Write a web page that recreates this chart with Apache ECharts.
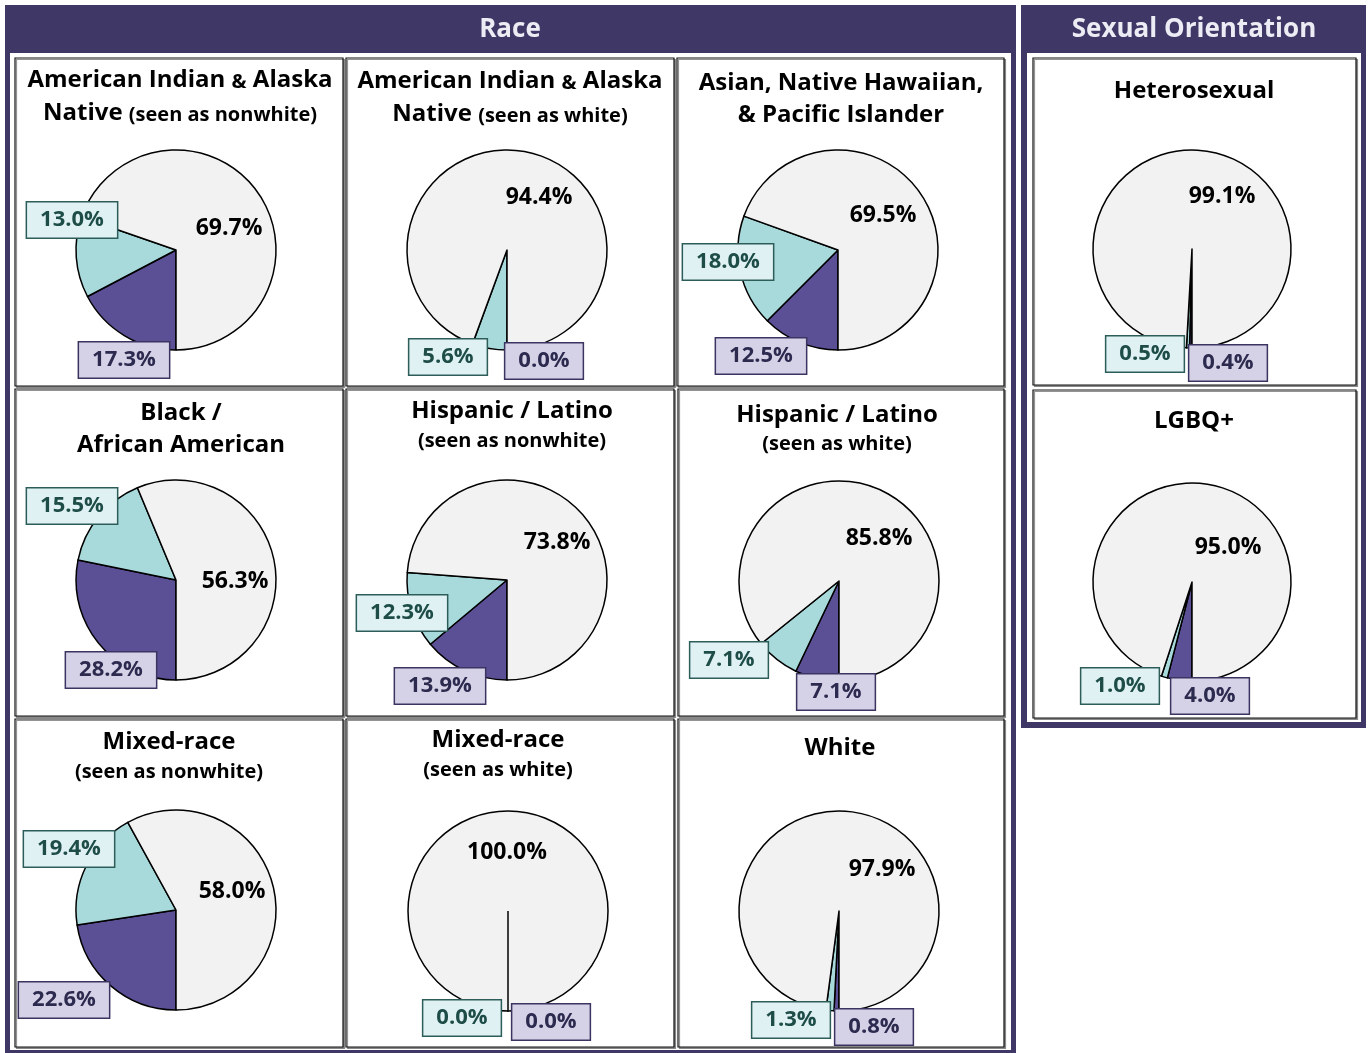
<!DOCTYPE html>
<html>
<head>
<meta charset="utf-8">
<script src="https://cdn.jsdelivr.net/npm/echarts@6/dist/echarts.min.js"></script>
<style>
  html, body { margin: 0; padding: 0; background: #fff; }
  #main { width: 1368px; height: 1053px; }
</style>
</head>
<body>
<div id="main"></div>
<script>
// 数据
const groups = [
  "AIAN (seen as nonwhite)", "AIAN (seen as white)", "Asian, NHPI",
  "Black / African American", "Hispanic / Latino (seen as nonwhite)", "Hispanic / Latino (seen as white)",
  "Mixed-race (seen as nonwhite)", "Mixed-race (seen as white)", "White",
  "Heterosexual", "LGBQ+"
];
const grayVals = [69.7, 94.4, 69.5, 56.3, 73.8, 85.8, 58.0, 100.0, 97.9, 99.1, 95.0];
const tealVals = [13.0, 5.6, 18.0, 15.5, 12.3, 7.1, 19.4, 0.0, 1.3, 0.5, 1.0];
const purpleVals = [17.3, 0.0, 12.5, 28.2, 13.9, 7.1, 22.6, 0.0, 0.8, 0.4, 4.0];

// 标题 (富文本)
const titleLines = [
  ["{t|American Indian }{s|&}{t| Alaska}", "{t|Native }{s|(seen as nonwhite)}"],
  ["{t|American Indian }{s|&}{t| Alaska}", "{t|Native }{s|(seen as white)}"],
  ["{t|Asian, Native Hawaiian,}", "{t|& Pacific Islander}"],
  ["{t|Black /}", "{t|African American}"],
  ["{t|Hispanic / Latino}", "{s|(seen as nonwhite)}"],
  ["{t|Hispanic / Latino}", "{s|(seen as white)}"],
  ["{t|Mixed-race}", "{s|(seen as nonwhite)}"],
  ["{t|Mixed-race}", "{s|(seen as white)}"],
  ["{t|White}"],
  ["{t|Heterosexual}"],
  ["{t|LGBQ}{p|+}"]
];

// 位置配置
const cells = [
  [15, 58, 328, 328], [346, 58, 328, 328], [677, 58, 327, 328],
  [15, 389, 328, 327], [346, 389, 328, 327], [678, 389, 326, 327],
  [15, 719, 328, 328], [346, 719, 328, 328], [678, 719, 326, 328],
  [1033, 58, 323, 327], [1033, 390, 323, 328]
];
const centers = [
  [176, 250], [507, 250], [838, 250],
  [176, 580], [507, 580], [839, 581],
  [176, 910], [508, 911], [839, 911],
  [1192, 249], [1192, 582]
];
const titlePos = [
  [180, 80, 113], [510, 81, 114], [841, 83, 115],
  [181, 413, 445], [512, 411, 441], [837, 415, 444],
  [169, 742, 772], [498, 740, 770], [840, 748],
  [1194, 91], [1194, 421]
];
// 标签位置: purple, teal, gray
const labelPos = [
  [[124, 360], [72, 220], [229, 228]],
  [[544, 361], [448, 357], [539, 197]],
  [[761, 356], [728, 262], [883, 215]],
  [[111, 670], [72, 506], [235, 581]],
  [[440, 686], [402, 613], [557, 542]],
  [[836, 692], [729, 660], [879, 538]],
  [[64, 1000], [69, 849], [232, 891]],
  [[551, 1022], [462, 1018], [507, 852]],
  [[874, 1027], [791, 1020], [882, 869]],
  [[1228, 363], [1145, 354], [1222, 196]],
  [[1210, 696], [1120, 686], [1228, 547]]
];

const FONT = "'Open Sans', 'Noto Sans', sans-serif";
const HEADER = "#3f3866";
const R = 100;
const colors = { gray: "#f2f2f2", teal: "#a8dadc", purple: "#5b4f95" };

const chart = echarts.init(document.getElementById("main"));

const graphics = [];
// 面板
graphics.push({ type: "rect", shape: { x: 5, y: 5, width: 1011, height: 1048 }, style: { fill: HEADER } });
graphics.push({ type: "rect", shape: { x: 10, y: 53, width: 1001, height: 997 }, style: { fill: "#fff" } });
graphics.push({ type: "rect", shape: { x: 1021, y: 5, width: 345, height: 723 }, style: { fill: HEADER } });
graphics.push({ type: "rect", shape: { x: 1027, y: 53, width: 334, height: 669 }, style: { fill: "#fff" } });
graphics.push({
  type: "text", x: 510, y: 30,
  style: { text: "Race", fill: "#ececf4", fontSize: 26, fontWeight: 700, fontFamily: FONT, align: "center", verticalAlign: "middle" }
});
graphics.push({
  type: "text", x: 1194, y: 30,
  style: { text: "Sexual Orientation", fill: "#ececf4", fontSize: 26, fontWeight: 700, fontFamily: FONT, align: "center", verticalAlign: "middle" }
});

const rich = {
  t: { fontSize: 24, fontWeight: 700, fontFamily: FONT, color: "#000", verticalAlign: "bottom" },
  s: { fontSize: 20, fontWeight: 700, fontFamily: FONT, color: "#000", verticalAlign: "bottom" },
  p: { fontSize: 24, fontWeight: 700, fontFamily: FONT, color: "#1f4e8c", verticalAlign: "bottom" }
};

cells.forEach((c, i) => {
  graphics.push({
    type: "rect",
    shape: { x: c[0], y: c[1], width: c[2], height: c[3] },
    style: {
      fill: "#fff", stroke: "#111", lineWidth: 1.2,
      shadowColor: "rgba(120,120,120,0.8)", shadowOffsetX: 1.5, shadowOffsetY: 1.5, shadowBlur: 0
    }
  });
  titleLines[i].forEach((line, k) => {
    graphics.push({
      type: "text", x: titlePos[i][0], y: titlePos[i][k + 1],
      style: { text: line, rich: rich, align: "center", verticalAlign: "middle", fontFamily: FONT, fontWeight: 700 }
    });
  });
});

// 零值扇区的边线 (全部在灰色时, 起始边)
groups.forEach((g, i) => {
  if (purpleVals[i] === 0 && tealVals[i] === 0) {
    const c = centers[i];
    graphics.push({
      type: "line", z: 10,
      shape: { x1: c[0], y1: c[1], x2: c[0], y2: c[1] + R },
      style: { stroke: "#000", lineWidth: 1.5 }
    });
  }
});

const boxLabel = (bg, border, color) => ({
  show: true,
  fontSize: 22, fontWeight: 700, fontFamily: FONT, color: color,
  backgroundColor: bg, borderColor: border, borderWidth: 1.5,
  padding: [8, 13, 5, 13]
});

const series = groups.map((g, i) => ({
  name: g,
  type: "pie",
  radius: i >= 9 ? R - 1 : R,
  center: centers[i],
  startAngle: 270,
  clockwise: true,
  animation: false,
  silent: true,
  emphasis: { disabled: true },
  itemStyle: { borderColor: "#000", borderWidth: 1.5 },
  labelLine: { show: false },
  label: {
    position: "inside",
    formatter: (p) => p.value.toFixed(1) + "%"
  },
  labelLayout: (params) => {
    const pos = labelPos[i][params.dataIndex];
    return { x: pos[0], y: pos[1], align: "center", verticalAlign: "middle" };
  },
  data: [
    { value: purpleVals[i], name: "purple", itemStyle: { color: colors.purple },
      label: boxLabel("#d5d2e7", "#3a3461", "#2c2a4e") },
    { value: tealVals[i], name: "teal", itemStyle: { color: colors.teal },
      label: boxLabel("#dff1f3", "#2d5d58", "#1e4d48") },
    { value: grayVals[i], name: "gray", itemStyle: { color: colors.gray },
      label: { show: true, fontSize: 23, fontWeight: 700, fontFamily: FONT, color: "#000" } }
  ]
}));

chart.setOption({
  backgroundColor: "#fff",
  animation: false,
  graphic: { elements: graphics },
  series: series
});
</script>
</body>
</html>
